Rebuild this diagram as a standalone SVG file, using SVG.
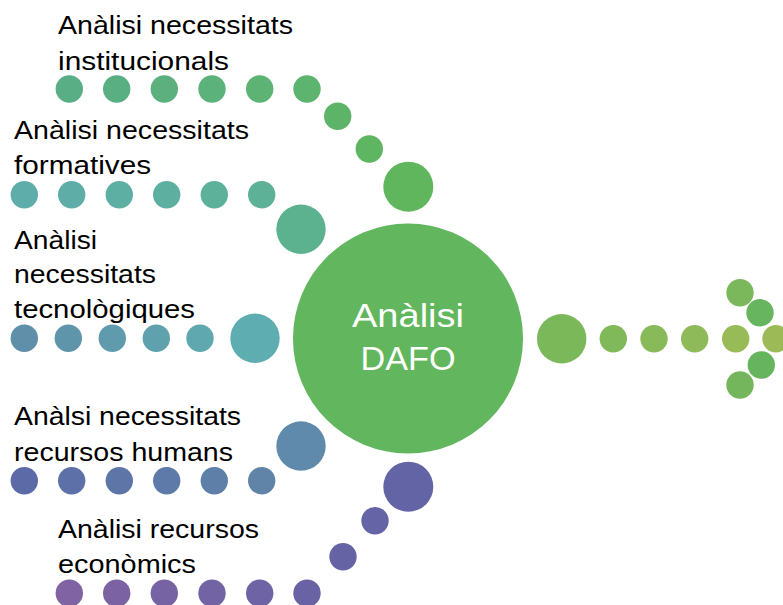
<svg xmlns="http://www.w3.org/2000/svg" width="783" height="605" viewBox="0 0 783 605">
<style>
.lbl{font-family:"Liberation Sans",Arial,sans-serif;font-size:26px;fill:#000}
.ctr{font-family:"Liberation Sans",Arial,sans-serif;font-size:34px;fill:#fff;text-anchor:middle}
</style>
<rect width="783" height="605" fill="#fff"/>
<g id="connectors">
  <g id="path-institucionals">
    <circle cx="69.3" cy="89" r="13.7" fill="#5aae86"/>
    <circle cx="116.7" cy="89" r="13.7" fill="#5aaf82"/>
    <circle cx="164.3" cy="89" r="13.7" fill="#5bb07e"/>
    <circle cx="212" cy="89" r="13.7" fill="#5bb27a"/>
    <circle cx="259.7" cy="89" r="13.7" fill="#5cb374"/>
    <circle cx="307" cy="89" r="13.7" fill="#5cb46e"/>
    <circle cx="337.7" cy="116.3" r="13.7" fill="#5db468"/>
    <circle cx="369.3" cy="149" r="13.7" fill="#5eb562"/>
  </g>
  <g id="path-formatives">
    <circle cx="24.3" cy="194.7" r="13.7" fill="#5fadab"/>
    <circle cx="71.7" cy="194.7" r="13.7" fill="#5eaea7"/>
    <circle cx="119.3" cy="194.7" r="13.7" fill="#5eafa3"/>
    <circle cx="166.7" cy="194.7" r="13.7" fill="#5daf9f"/>
    <circle cx="214.3" cy="194.7" r="13.7" fill="#5db09a"/>
    <circle cx="261.7" cy="194.7" r="13.7" fill="#5cb196"/>
  </g>
  <g id="path-tecnologiques">
    <circle cx="24.3" cy="338.3" r="13.7" fill="#5f8fa9"/>
    <circle cx="68.3" cy="338.3" r="13.7" fill="#5f95ab"/>
    <circle cx="112.3" cy="338.3" r="13.7" fill="#5f9bad"/>
    <circle cx="156.3" cy="338.3" r="13.7" fill="#5fa2ae"/>
    <circle cx="200" cy="338.3" r="13.7" fill="#5fa8b0"/>
  </g>
  <g id="path-humans">
    <circle cx="24.3" cy="480.7" r="13.7" fill="#5d6aa8"/>
    <circle cx="71.7" cy="480.7" r="13.7" fill="#5d70a8"/>
    <circle cx="119.3" cy="480.7" r="13.7" fill="#5e75a8"/>
    <circle cx="166.7" cy="480.7" r="13.7" fill="#5e7aa8"/>
    <circle cx="214.3" cy="480.7" r="13.7" fill="#5e7fa8"/>
    <circle cx="261.7" cy="480.7" r="13.7" fill="#5f84a8"/>
  </g>
  <g id="path-economics">
    <circle cx="69.3" cy="593.3" r="13.7" fill="#7f63a3"/>
    <circle cx="116.7" cy="593.3" r="13.7" fill="#7b63a3"/>
    <circle cx="164.3" cy="593.3" r="13.7" fill="#7663a4"/>
    <circle cx="212" cy="593.3" r="13.7" fill="#7263a4"/>
    <circle cx="259.7" cy="593.3" r="13.7" fill="#6d63a5"/>
    <circle cx="307" cy="593.3" r="13.7" fill="#6963a5"/>
    <circle cx="343" cy="556.7" r="13.7" fill="#6663a5"/>
    <circle cx="375" cy="520.7" r="13.7" fill="#6564a6"/>
  </g>
  <g id="path-output">
    <circle cx="613.3" cy="338.7" r="13.7" fill="#80b95a"/>
    <circle cx="654" cy="338.7" r="13.7" fill="#88ba5a"/>
    <circle cx="694.7" cy="338.7" r="13.7" fill="#8fba59"/>
    <circle cx="735.7" cy="338.7" r="13.7" fill="#97bb57"/>
    <circle cx="776" cy="338.7" r="13.7" fill="#9cba56"/>
    <circle cx="740" cy="292.7" r="13.7" fill="#7ab85b"/>
    <circle cx="760" cy="312.7" r="13.7" fill="#67b55e"/>
    <circle cx="761.3" cy="365" r="13.7" fill="#66b55e"/>
    <circle cx="740" cy="385" r="13.7" fill="#74b65c"/>
  </g>
</g>
<g id="node-institucionals">
  <circle cx="408.3" cy="186.7" r="25" fill="#60b65d"/>
  <text class="lbl" x="58" y="34" textLength="235" lengthAdjust="spacingAndGlyphs">Anàlisi necessitats</text>
  <text class="lbl" x="58" y="70" textLength="171" lengthAdjust="spacingAndGlyphs">institucionals</text>
</g>
<g id="node-formatives">
  <circle cx="301" cy="229.3" r="24.7" fill="#5cb28e"/>
  <text class="lbl" x="14" y="139.3" textLength="235" lengthAdjust="spacingAndGlyphs">Anàlisi necessitats</text>
  <text class="lbl" x="14" y="174" textLength="137" lengthAdjust="spacingAndGlyphs">formatives</text>
</g>
<g id="node-tecnologiques">
  <circle cx="255" cy="338.3" r="24.7" fill="#5eadb0"/>
  <text class="lbl" x="14" y="248.7" textLength="83" lengthAdjust="spacingAndGlyphs">Anàlisi</text>
  <text class="lbl" x="14" y="283.3" textLength="142" lengthAdjust="spacingAndGlyphs">necessitats</text>
  <text class="lbl" x="14" y="318.3" textLength="181" lengthAdjust="spacingAndGlyphs">tecnològiques</text>
</g>
<g id="node-humans">
  <circle cx="301" cy="446" r="24.7" fill="#5f8aab"/>
  <text class="lbl" x="14" y="425" textLength="227" lengthAdjust="spacingAndGlyphs">Anàlsi necessitats</text>
  <text class="lbl" x="14" y="460.7" textLength="219" lengthAdjust="spacingAndGlyphs">recursos humans</text>
</g>
<g id="node-economics">
  <circle cx="408.3" cy="486.7" r="25" fill="#6264a6"/>
  <text class="lbl" x="58" y="538.3" textLength="201" lengthAdjust="spacingAndGlyphs">Anàlisi recursos</text>
  <text class="lbl" x="58" y="573.3" textLength="138" lengthAdjust="spacingAndGlyphs">econòmics</text>
</g>
<g id="node-dafo">
  <circle cx="408" cy="338.5" r="115" fill="#62b65d"/>
  <text class="ctr" x="408" y="327" textLength="112" lengthAdjust="spacingAndGlyphs">Anàlisi</text>
  <text class="ctr" x="408" y="370" textLength="95" lengthAdjust="spacingAndGlyphs">DAFO</text>
</g>
<g id="node-output">
  <circle cx="561.7" cy="338.7" r="24.7" fill="#7bb85a"/>
</g>
</svg>
